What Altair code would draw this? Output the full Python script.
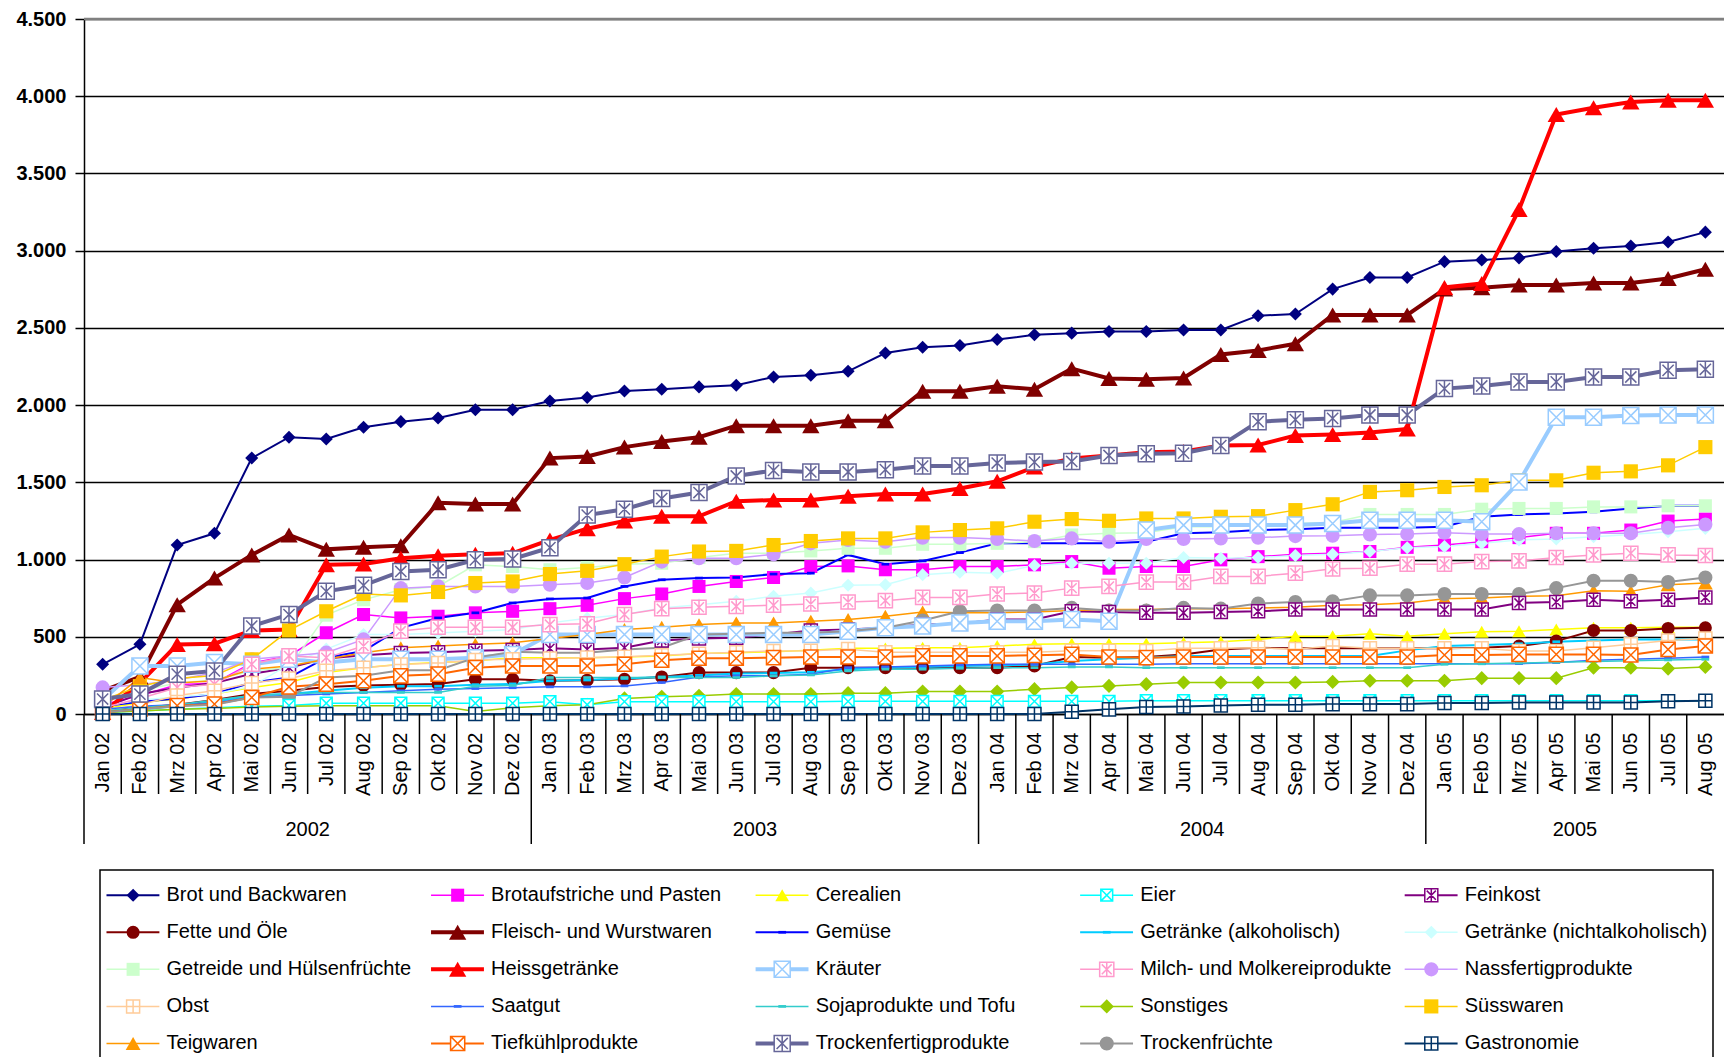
import json
import altair as alt
import pandas as pd

MONTHS = ["Jan 02", "Feb 02", "Mrz 02", "Apr 02", "Mai 02", "Jun 02", "Jul 02", "Aug 02", "Sep 02", "Okt 02", "Nov 02", "Dez 02",
          "Jan 03", "Feb 03", "Mrz 03", "Apr 03", "Mai 03", "Jun 03", "Jul 03", "Aug 03", "Sep 03", "Okt 03", "Nov 03", "Dez 03",
          "Jan 04", "Feb 04", "Mrz 04", "Apr 04", "Mai 04", "Jun 04", "Jul 04", "Aug 04", "Sep 04", "Okt 04", "Nov 04", "Dez 04",
          "Jan 05", "Feb 05", "Mrz 05", "Apr 05", "Mai 05", "Jun 05", "Jul 05", "Aug 05"]
YEARS = ["2002"] * 12 + ["2003"] * 12 + ["2004"] * 12 + ["2005"] * 8

SERIES = ["Brot und Backwaren", "Brotaufstriche und Pasten", "Cerealien", "Eier", "Feinkost",
          "Fette und Öle", "Fleisch- und Wurstwaren", "Gemüse", "Getränke (alkoholisch)", "Getränke (nichtalkoholisch)",
          "Getreide und Hülsenfrüchte", "Heissgetränke", "Kräuter", "Milch- und Molkereiprodukte", "Nassfertigprodukte",
          "Obst", "Saatgut", "Sojaprodukte und Tofu", "Sonstiges", "Süsswaren",
          "Teigwaren", "Tiefkühlprodukte", "Trockenfertigprodukte", "Trockenfrüchte", "Gastronomie"]

brot = [322, 451, 1094, 1170, 1657, 1792, 1781, 1856, 1893, 1916, 1970, 1970, 2026, 2049, 2092, 2103, 2118, 2129, 2182, 2193, 2219, 2337, 2375, 2386, 2425, 2455, 2466, 2476, 2476, 2487, 2487, 2579, 2590, 2751, 2826, 2826, 2929, 2940, 2953, 2994, 3015, 3030, 3056, 3120]
brotaufstriche = [60, 120, 190, 200, 330, 376, 526, 644, 622, 633, 655, 665, 682, 704, 747, 777, 826, 858, 884, 955, 959, 934, 934, 955, 955, 966, 987, 944, 955, 955, 998, 1019, 1034, 1041, 1052, 1079, 1094, 1116, 1142, 1170, 1170, 1191, 1249, 1262]
cerealien = [32, 75, 97, 129, 172, 204, 268, 300, 322, 333, 343, 365, 365, 365, 369, 376, 391, 397, 403, 412, 425, 425, 429, 429, 440, 451, 455, 455, 455, 461, 468, 483, 504, 504, 519, 504, 519, 532, 536, 547, 558, 558, 562, 562]
eier = [10, 20, 30, 40, 50, 55, 70, 70, 70, 70, 70, 70, 80, 60, 80, 80, 80, 80, 80, 80, 82, 82, 82, 82, 82, 82, 82, 82, 86, 86, 86, 86, 86, 86, 86, 86, 86, 86, 86, 86, 86, 86, 86, 86]
feinkost = [40, 130, 170, 200, 260, 300, 360, 380, 395, 400, 410, 415, 425, 418, 429, 476, 489, 494, 515, 541, 547, 558, 579, 584, 612, 612, 665, 661, 655, 655, 661, 665, 676, 676, 676, 676, 676, 676, 719, 725, 740, 730, 740, 755]
fette = [20, 40, 60, 90, 130, 150, 175, 185, 190, 195, 225, 225, 215, 219, 225, 240, 268, 268, 268, 300, 300, 300, 300, 300, 300, 311, 369, 365, 369, 386, 418, 429, 425, 425, 425, 425, 425, 429, 440, 472, 541, 541, 554, 558]
fleisch = [150, 240, 708, 880, 1030, 1159, 1066, 1079, 1090, 1367, 1360, 1360, 1657, 1668, 1728, 1764, 1792, 1867, 1867, 1867, 1899, 1899, 2090, 2090, 2122, 2103, 2236, 2172, 2167, 2176, 2328, 2354, 2397, 2584, 2584, 2584, 2751, 2760, 2777, 2777, 2790, 2790, 2820, 2880]
gemuese = [50, 80, 100, 130, 204, 236, 365, 408, 558, 622, 655, 719, 745, 751, 826, 869, 880, 884, 906, 912, 1030, 970, 991, 1045, 1105, 1105, 1105, 1105, 1116, 1170, 1176, 1191, 1197, 1206, 1206, 1206, 1212, 1277, 1292, 1298, 1309, 1331, 1348, 1348]
getraenke_alk = [10, 30, 50, 80, 120, 130, 150, 170, 180, 180, 190, 195, 215, 220, 230, 240, 250, 262, 265, 270, 290, 300, 305, 310, 315, 320, 343, 354, 365, 376, 376, 376, 376, 376, 376, 412, 440, 446, 455, 468, 476, 483, 483, 483]
getraenke_nicht = [50, 90, 110, 130, 180, 320, 420, 515, 515, 525, 536, 547, 590, 620, 644, 687, 708, 730, 762, 783, 833, 837, 901, 918, 912, 961, 976, 976, 976, 1013, 1009, 1013, 1026, 1034, 1052, 1077, 1084, 1105, 1127, 1133, 1148, 1163, 1180, 1202]
getreide = [80, 150, 200, 220, 280, 300, 640, 740, 805, 826, 966, 955, 934, 948, 970, 976, 1013, 1041, 1041, 1056, 1073, 1073, 1099, 1099, 1105, 1116, 1159, 1170, 1174, 1212, 1212, 1223, 1234, 1240, 1292, 1292, 1292, 1326, 1331, 1331, 1341, 1341, 1348, 1348]
heiss = [10, 200, 450, 455, 541, 547, 966, 972, 1009, 1024, 1035, 1041, 1127, 1200, 1250, 1280, 1280, 1378, 1385, 1385, 1410, 1425, 1425, 1460, 1507, 1599, 1655, 1674, 1695, 1700, 1738, 1742, 1803, 1810, 1822, 1845, 2762, 2787, 3266, 3882, 3925, 3963, 3974, 3974]
kraeuter = [90, 311, 311, 333, 322, 354, 333, 354, 354, 354, 365, 386, 515, 515, 515, 515, 515, 515, 515, 515, 536, 558, 569, 590, 601, 601, 612, 601, 1191, 1223, 1223, 1223, 1223, 1234, 1255, 1255, 1255, 1245, 1502, 1921, 1921, 1932, 1936, 1936]
milch = [40, 100, 172, 193, 322, 376, 365, 440, 537, 562, 562, 562, 579, 584, 644, 682, 691, 697, 704, 712, 725, 734, 755, 755, 777, 783, 815, 826, 854, 854, 891, 891, 912, 940, 944, 970, 970, 987, 991, 1013, 1030, 1041, 1030, 1026]
nass = [172, 190, 220, 268, 354, 376, 397, 483, 815, 826, 826, 826, 837, 848, 884, 987, 1009, 1009, 1034, 1105, 1127, 1116, 1142, 1142, 1133, 1120, 1137, 1116, 1133, 1133, 1137, 1142, 1152, 1154, 1163, 1165, 1174, 1165, 1165, 1170, 1170, 1170, 1206, 1227]
obst = [20, 60, 120, 150, 200, 230, 280, 300, 320, 330, 350, 354, 360, 365, 370, 380, 390, 400, 408, 410, 420, 400, 400, 400, 400, 400, 410, 410, 408, 425, 425, 429, 420, 440, 425, 425, 425, 425, 408, 408, 429, 451, 476, 489]
saatgut = [30, 50, 60, 70, 110, 120, 130, 140, 150, 160, 165, 170, 176, 176, 182, 204, 240, 247, 247, 258, 300, 305, 311, 318, 322, 322, 322, 322, 322, 326, 326, 326, 326, 326, 326, 326, 326, 326, 326, 333, 348, 354, 361, 369]
soja = [20, 40, 60, 90, 120, 130, 140, 140, 140, 140, 180, 185, 236, 236, 236, 236, 236, 236, 247, 253, 279, 290, 290, 296, 300, 300, 305, 305, 300, 300, 300, 300, 300, 300, 300, 300, 322, 325, 330, 335, 340, 345, 350, 354]
sonstiges = [10, 20, 30, 35, 45, 50, 54, 54, 54, 54, 17, 40, 54, 60, 101, 112, 118, 129, 129, 129, 135, 135, 146, 146, 146, 161, 172, 182, 193, 204, 204, 204, 204, 208, 215, 215, 215, 232, 232, 232, 300, 300, 294, 305]
suess = [90, 180, 230, 250, 354, 541, 665, 777, 768, 790, 848, 858, 906, 927, 970, 1019, 1052, 1056, 1094, 1120, 1137, 1137, 1176, 1191, 1202, 1245, 1262, 1251, 1266, 1266, 1277, 1281, 1320, 1358, 1438, 1449, 1470, 1481, 1513, 1513, 1562, 1571, 1610, 1728]
teig = [43, 236, 200, 215, 290, 311, 354, 397, 429, 440, 451, 461, 489, 515, 547, 562, 579, 590, 590, 601, 612, 633, 661, 655, 655, 661, 670, 676, 676, 682, 682, 687, 691, 704, 708, 719, 747, 751, 762, 766, 798, 794, 837, 848]
tiefkuehl = [10, 32, 54, 64, 107, 176, 193, 215, 247, 258, 300, 311, 311, 311, 322, 348, 361, 361, 365, 369, 369, 369, 376, 376, 376, 380, 386, 369, 365, 369, 369, 369, 369, 369, 369, 369, 382, 382, 386, 386, 386, 382, 418, 440]
trockenfertig = [97, 129, 258, 279, 569, 644, 794, 833, 923, 934, 998, 1004, 1077, 1288, 1326, 1395, 1434, 1541, 1577, 1567, 1567, 1582, 1605, 1605, 1625, 1631, 1635, 1674, 1685, 1689, 1738, 1893, 1906, 1914, 1936, 1936, 2107, 2124, 2150, 2150, 2182, 2182, 2225, 2232]
trockenfruechte = [10, 30, 50, 60, 107, 112, 236, 247, 283, 283, 365, 403, 397, 397, 418, 429, 515, 519, 526, 526, 536, 558, 605, 665, 670, 670, 687, 670, 670, 687, 682, 715, 725, 730, 768, 768, 777, 777, 777, 815, 863, 863, 854, 884]
gastronomie = [0, 0, 0, 0, 0, 0, 0, 0, 0, 0, 0, 0, 0, 0, 0, 0, 0, 0, 0, 0, 0, 0, 0, 0, 0, 0, 15, 30, 45, 49, 55, 60, 60, 64, 64, 64, 71, 71, 75, 75, 75, 75, 82, 86]

VALUES = [brot, brotaufstriche, cerealien, eier, feinkost, fette, fleisch, gemuese, getraenke_alk, getraenke_nicht,
          getreide, heiss, kraeuter, milch, nass, obst, saatgut, soja, sonstiges, suess,
          teig, tiefkuehl, trockenfertig, trockenfruechte, gastronomie]

# ---- styles ----
COLORS = ["#000080", "#FF00FF", "#FFFF00", "#00FFFF", "#800080",
          "#800000", "#800000", "#0000FF", "#00CCFF", "#CCFFFF",
          "#CCFFCC", "#FF0000", "#99CCFF", "#FF99CC", "#CC99FF",
          "#FFCC99", "#3366FF", "#33CCCC", "#99CC00", "#FFCC00",
          "#FF9900", "#FF6600", "#666699", "#969696", "#003366"]
DASH = "M-1,-0.35L1,-0.35L1,0.35L-1,0.35Z"
SQX = "M-1,-1L1,-1L1,1L-1,1Z M-1,-1L1,1 M-1,1L1,-1"
SQSTAR = "M-1,-1L1,-1L1,1L-1,1Z M-0.7,-0.7L0.7,0.7 M-0.7,0.7L0.7,-0.7 M0,-1L0,1"
SQPLUS = "M-1,-1L1,-1L1,1L-1,1Z M0,-1L0,1 M-1,0L1,0"
SHAPES = ["diamond", "square", "triangle-up", SQX, SQSTAR,
          "circle", "triangle-up", DASH, DASH, "diamond",
          "square", "triangle-up", SQX, SQSTAR, "circle",
          SQPLUS, DASH, DASH, "diamond", "square",
          "triangle-up", SQX, SQSTAR, "circle", SQPLUS]
HOLLOW = [False, False, False, True, True,
          False, False, False, False, False,
          False, False, True, True, False,
          True, False, False, False, False,
          False, True, True, False, True]
SIZES = [170, 170, 190, 140, 170,
         170, 300, 60, 60, 170,
         170, 300, 256, 200, 200,
         170, 60, 60, 200, 200,
         220, 200, 256, 200, 170]
WIDTHS = [2, 1.5, 1.5, 1.5, 2,
          2, 4, 2, 2, 1.5,
          1.5, 4, 4, 1.5, 1.5,
          1.5, 1.5, 1.5, 1.5, 1.5,
          1.5, 2, 4, 2, 2]

FONT = "Liberation Sans, Arial, sans-serif"

W, H = 1640, 695

# ---- data frames ----
rows = []
for si, (name, vals) in enumerate(zip(SERIES, VALUES)):
    for i, v in enumerate(vals):
        rows.append({"series": name, "idx": i, "value": v, "hollow": HOLLOW[si],
                     "msize": SIZES[si], "lw": WIDTHS[si]})
df = pd.DataFrame(rows)

months_df = pd.DataFrame({"idx": list(range(len(MONTHS))), "year": YEARS})

short_b, long_b = [], [-0.5]
for i in range(1, len(MONTHS)):
    (long_b if YEARS[i] != YEARS[i - 1] else short_b).append(i - 0.5)
sep_short = pd.DataFrame({"idx": short_b})
sep_long = pd.DataFrame({"idx": long_b})

leg = pd.DataFrame({"series": SERIES,
                    "col": [i % 5 for i in range(len(SERIES))],
                    "row": [i // 5 for i in range(len(SERIES))],
                    "hollow": HOLLOW, "msize": SIZES, "lw": WIDTHS})

# ---- shared encodings ----
X_ENC = alt.X("idx:Q", title=None,
              scale=alt.Scale(domain=[-0.5, len(MONTHS) - 0.5], nice=False, zero=False),
              axis=alt.Axis(values=list(range(len(MONTHS))),
                            labelExpr=json.dumps(MONTHS) + "[datum.value]",
                            labelAngle=270, labelAlign="right", labelBaseline="middle",
                            labelPadding=18, labelFont=FONT, labelFontSize=20,
                            labelColor="black", labelOverlap=False, labelFlush=False, labelBound=False,
                            ticks=False, grid=False, domainColor="black", domainWidth=1.5))
Y_ENC = alt.Y("value:Q", title=None,
              scale=alt.Scale(domain=[0, 4500], nice=False),
              axis=alt.Axis(values=list(range(0, 4501, 500)),
                            labelExpr="replace(format(datum.value, ','), ',', '.')",
                            labelFont=FONT, labelFontWeight="bold", labelFontSize=20,
                            labelColor="black", labelPadding=9, tickSize=9, tickColor="black",
                            tickWidth=1.5, domainColor="black", domainWidth=1.5,
                            grid=True, gridColor="black", gridWidth=1.3))
COLOR = alt.Color("series:N", scale=alt.Scale(domain=SERIES, range=COLORS), legend=None)
SHAPE = alt.Shape("series:N", scale=alt.Scale(domain=SERIES, range=SHAPES), legend=None)
SIZE = alt.Size("msize:Q", scale=None, legend=None)
SW = alt.StrokeWidth("lw:Q", scale=None, legend=None)

base = alt.Chart(df)
lines = base.mark_line().encode(x=X_ENC, y=Y_ENC, color=COLOR, strokeWidth=SW, detail="series:N")
pts_filled = base.transform_filter("!datum.hollow").mark_point(filled=True, opacity=1).encode(
    x=X_ENC, y=Y_ENC, color=COLOR, shape=SHAPE, size=SIZE)
pts_hollow = base.transform_filter("datum.hollow").mark_point(
    filled=False, fill="white", fillOpacity=1, opacity=1, strokeWidth=1.5).encode(
    x=X_ENC, y=Y_ENC, color=COLOR, shape=SHAPE, size=SIZE)

top_line = alt.Chart(pd.DataFrame({"value": [4500]})).mark_rule(color="#808080", strokeWidth=2.5).encode(y=Y_ENC)

short_rules = alt.Chart(sep_short).mark_rule(color="black", strokeWidth=1.5).encode(
    x=X_ENC, y=alt.value(H), y2=alt.value(H + 80))
long_rules = alt.Chart(sep_long).mark_rule(color="black", strokeWidth=1.5).encode(
    x=X_ENC, y=alt.value(H), y2=alt.value(H + 130))
year_text = alt.Chart(months_df).transform_aggregate(
    lo="min(idx)", hi="max(idx)", groupby=["year"]
).transform_calculate(idx="(datum.lo + datum.hi) / 2").mark_text(
    font=FONT, fontSize=20, color="black", baseline="middle", align="center"
).encode(x=X_ENC, y=alt.value(H + 116), text="year:N")

main = alt.layer(top_line, lines, pts_filled, pts_hollow, short_rules, long_rules, year_text)

# ---- legend (own scales, placed below the plot) ----
LX_DOM = [-0.02, 4.95]
LY_DOM = [-0.68, 4.5]
LXS = alt.Scale(domain=LX_DOM, range=[16, 1629], nice=False, zero=False)
LYS = alt.Scale(domain=LY_DOM, range=[851, 1043], nice=False, zero=False)

box = alt.Chart(pd.DataFrame({"lx": [LX_DOM[0]], "lx2": [LX_DOM[1]], "ly": [LY_DOM[0]], "ly2": [LY_DOM[1]]})).mark_rect(
    fill="white", stroke="black", strokeWidth=1.5).encode(
    x=alt.X("lx:Q", scale=LXS, axis=None), x2="lx2:Q",
    y=alt.Y("ly:Q", scale=LYS, axis=None), y2="ly2:Q")

lbase = alt.Chart(leg).transform_calculate(
    x0="datum.col", x1="datum.col + 0.163", xm="datum.col + 0.082", xt="datum.col + 0.185")
LY_ENC = alt.Y("row:Q", scale=LYS, axis=None)
leg_lines = lbase.mark_rule().encode(
    x=alt.X("x0:Q", scale=LXS, axis=None), x2="x1:Q", y=LY_ENC, color=COLOR, strokeWidth=SW)
leg_pf = lbase.transform_filter("!datum.hollow").mark_point(filled=True, opacity=1).encode(
    x=alt.X("xm:Q", scale=LXS, axis=None), y=LY_ENC, color=COLOR, shape=SHAPE, size=SIZE)
leg_ph = lbase.transform_filter("datum.hollow").mark_point(
    filled=False, fill="white", fillOpacity=1, opacity=1, strokeWidth=1.5).encode(
    x=alt.X("xm:Q", scale=LXS, axis=None), y=LY_ENC, color=COLOR, shape=SHAPE, size=SIZE)
leg_text = lbase.mark_text(font=FONT, fontSize=20, color="black", align="left", baseline="middle").encode(
    x=alt.X("xt:Q", scale=LXS, axis=None), y=LY_ENC, text="series:N")

legend = alt.layer(box, leg_lines, leg_pf, leg_ph, leg_text)

chart = alt.layer(main, legend).resolve_scale(x="independent", y="independent").properties(
    width=W, height=H,
    autosize=alt.AutoSizeParams(type="none"),
    padding={"left": 76, "top": 11, "right": 0, "bottom": 343},
).configure_view(stroke=None)

chart.save("out.html", embed_options={"renderer": "svg", "actions": False})
